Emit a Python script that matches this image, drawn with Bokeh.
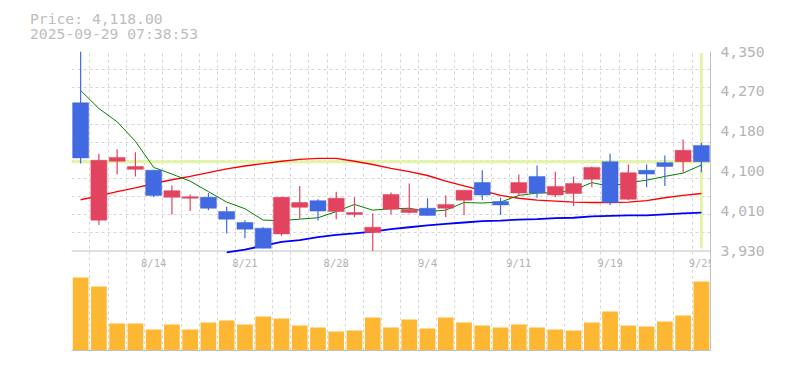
from bokeh.plotting import figure
from bokeh.layouts import column
from bokeh.models import Range1d, FixedTicker, ColumnDataSource, LabelSet, Div
from bokeh.embed import file_html
from bokeh.resources import INLINE
from bokeh.core.properties import value

# ---------------- data ----------------
dates = ["8/7", "8/8", "8/12", "8/13", "8/14", "8/15", "8/18", "8/19", "8/20", "8/21",
         "8/22", "8/25", "8/26", "8/27", "8/28", "8/29", "9/1", "9/2", "9/3", "9/4",
         "9/5", "9/8", "9/9", "9/10", "9/11", "9/12", "9/16", "9/17", "9/18", "9/19",
         "9/22", "9/24", "9/25", "9/26", "9/29"]
open_ = [4242, 3995, 4119, 4102, 4100, 4043, 4041, 4043, 4013, 3990, 3978, 3966, 4022, 4036, 4013,
         4007, 3969, 4018, 4011, 4020, 4020, 4037, 4074, 4034, 4052, 4087, 4048, 4051, 4081, 4118,
         4039, 4100, 4116, 4118, 4152]
high = [4350, 4135, 4144, 4138, 4101, 4068, 4049, 4052, 4023, 3995, 3980, 4044, 4067, 4039, 4055,
        4043, 4009, 4053, 4072, 4041, 4047, 4058, 4100, 4042, 4091, 4110, 4097, 4087, 4108, 4135,
        4112, 4112, 4131, 4165, 4158]
low = [4114, 3985, 4091, 4087, 4043, 4007, 4014, 4016, 3967, 3957, 3936, 3962, 3998, 3994, 3997,
       4001, 3930, 4007, 4009, 4005, 4001, 4006, 4037, 4006, 4046, 4042, 4043, 4025, 4064, 4027,
       4037, 4064, 4067, 4095, 4096]
close = [4126, 4121, 4127, 4108, 4047, 4057, 4044, 4020, 3997, 3976, 3936, 4043, 4032, 4014, 4041,
         4011, 3980, 4049, 4018, 4005, 4028, 4058, 4048, 4027, 4074, 4052, 4066, 4072, 4106, 4032,
         4095, 4092, 4108, 4142, 4118]
ma5 = [4268, 4230, 4202, 4161, 4106, 4092, 4077, 4055, 4033, 4019, 3995, 3994, 3997, 4000, 4013,
       4028, 4016, 4019, 4020, 4013, 4016, 4032, 4031, 4033, 4047, 4052, 4053, 4058, 4074, 4066,
       4074, 4079, 4087, 4094, 4111]
ma25 = [4038, 4046, 4055, 4063, 4072, 4080, 4087, 4095, 4103, 4109, 4114, 4119, 4123, 4125, 4125,
        4119, 4112, 4104, 4097, 4089, 4077, 4067, 4057, 4047, 4041, 4037, 4035, 4033, 4032, 4032,
        4033, 4036, 4042, 4047, 4051]
nan = float("nan")
ma75 = [nan, nan, nan, nan, nan, nan, nan, nan, 3927, 3933, 3941, 3949, 3953, 3959, 3964,
        3967, 3971, 3976, 3980, 3984, 3987, 3990, 3993, 3994, 3996, 3997, 3999, 4000, 4003, 4004,
        4005, 4005, 4007, 4009, 4011]
volume = [73, 64, 27, 27, 21, 26, 21, 28, 30, 26, 34, 32, 25, 23, 19, 20, 33, 23, 31, 22,
          33, 28, 25, 23, 26, 23, 21, 20, 28, 39, 25, 24, 29, 35, 69]
date_ticks = ["8/14", "8/21", "8/28", "9/4", "9/11", "9/19", "9/29"]
price_ticks = [3930, 4014, 4098, 4182, 4266, 4350]
price_tick_labels = ["3,930", "4,010", "4,100", "4,180", "4,270", "4,350"]
price_label = "Price: 4,118.00"
time_label = "2025-09-29 07:38:53"

# ---------------- layout constants ----------------
W = 777
HDR_H = 41
H = 319
BL, BR, BT, BB = 71, 67, 10, 10
FRAME_H = H - BT - BB
PRICE_TOP, PRICE_BOT = 4350, 3930
PRICE_PX = 199.5
upp = (PRICE_TOP - PRICE_BOT) / PRICE_PX
Y0 = PRICE_BOT - (FRAME_H - PRICE_PX) * upp
n = len(dates)
idx = list(range(n))

FONT = "DejaVu Sans Mono"
GRAY = "#b4b4b4"
UP, DOWN = "#e2445f", "#4169e1"
HAIR = "#e3f4a6"

# ---------------- header ----------------
hdr = Div(text=price_label + "<br>" + time_label, width=W, height=HDR_H,
          styles={"font-family": FONT, "font-size": "14.7px", "color": "#bdbdbd",
                  "line-height": "15px", "padding-left": "30px", "padding-top": "10.7px",
                  "box-sizing": "border-box", "white-space": "nowrap", "overflow": "hidden",
                  "margin": "0"})

# ---------------- main chart ----------------
p = figure(width=W, height=H, x_range=Range1d(-0.5, n - 0.5), y_range=Range1d(Y0, PRICE_TOP),
           y_axis_location="right", output_backend="svg", toolbar_location=None,
           min_border_left=BL, min_border_right=BR, min_border_top=BT, min_border_bottom=BB)
p.extra_y_ranges = {"vol": Range1d(0, FRAME_H)}
p.outline_line_color = None
p.background_fill_color = "white"
p.border_fill_color = "white"

# grids
p.xgrid.ticker = FixedTicker(ticks=[i - 0.5 for i in range(n + 1)])
p.ygrid.ticker = FixedTicker(ticks=[PRICE_BOT + (PRICE_TOP - PRICE_BOT) * k / 11 for k in range(1, 12)])
for g in (p.xgrid, p.ygrid):
    g.grid_line_color = "#d6d6d6"
    g.grid_line_dash = "3 3"
    g.grid_line_width = 1

# axes
p.yaxis.ticker = FixedTicker(ticks=price_ticks)
p.yaxis.major_label_overrides = {t: s for t, s in zip(price_ticks, price_tick_labels)}
p.yaxis.major_tick_line_color = None
p.yaxis.minor_tick_line_color = None
p.yaxis.major_tick_out = 0
p.yaxis.major_label_standoff = 10
p.yaxis.axis_line_color = "#c0c0c0"
p.yaxis.major_label_text_font = FONT
p.yaxis.major_label_text_font_size = "14.7px"
p.yaxis.major_label_text_color = GRAY

p.xaxis.ticker = FixedTicker(ticks=[])
p.xaxis.major_label_text_font_size = "0px"
p.xaxis.major_tick_line_color = None
p.xaxis.minor_tick_line_color = None
p.xaxis.axis_line_color = "#c0c0c0"

# crosshair at last price
last = n - 1
p.segment(x0=[-0.5], x1=[n - 0.5], y0=[close[last]], y1=[close[last]], line_color=HAIR, line_width=3)
p.segment(x0=[last], x1=[last], y0=[PRICE_TOP - 1.5 * upp], y1=[PRICE_BOT + 2.5 * upp],
          line_color=HAIR, line_width=3)

# separator between price and volume panels
p.segment(x0=[-0.5], x1=[n - 0.5], y0=[PRICE_BOT], y1=[PRICE_BOT], line_color="#c0c0c0", line_width=1)

# volume
p.vbar(x=idx, top=volume, bottom=0, width=0.86, y_range_name="vol",
       fill_color="#feb733", line_color=None)

# moving averages
p.line(idx, ma75, line_color="#0000ff", line_width=1.8)
p.line(idx, ma25, line_color="#ff0000", line_width=1.4)
p.line(idx, ma5, line_color="#008000", line_width=1)

# candles
colors = [UP if c >= o else DOWN for o, c in zip(open_, close)]
src = ColumnDataSource(dict(x=idx, o=open_, h=high, l=low, c=close, color=colors,
                            top=[max(o, c) for o, c in zip(open_, close)],
                            bot=[min(o, c) for o, c in zip(open_, close)]))
p.segment(x0="x", x1="x", y0="h", y1="l", line_color="color", line_width=1.2, source=src)
p.vbar(x="x", top="top", bottom="bot", width=0.875, fill_color="color", line_color="color",
       line_width=0.5, source=src)

# date labels just below the price panel
date_src = ColumnDataSource(dict(x=[dates.index(d) for d in date_ticks],
                                 y=[PRICE_BOT - 11.5 * upp] * len(date_ticks),
                                 t=date_ticks))
p.add_layout(LabelSet(x="x", y="y", text="t", source=date_src, text_align="center",
                      text_baseline="middle", text_font=value(FONT), text_font_size=value("10.5px"),
                      text_color=GRAY))

layout = column(hdr, p, spacing=0)
open("out.html", "w").write(file_html(layout, INLINE))
